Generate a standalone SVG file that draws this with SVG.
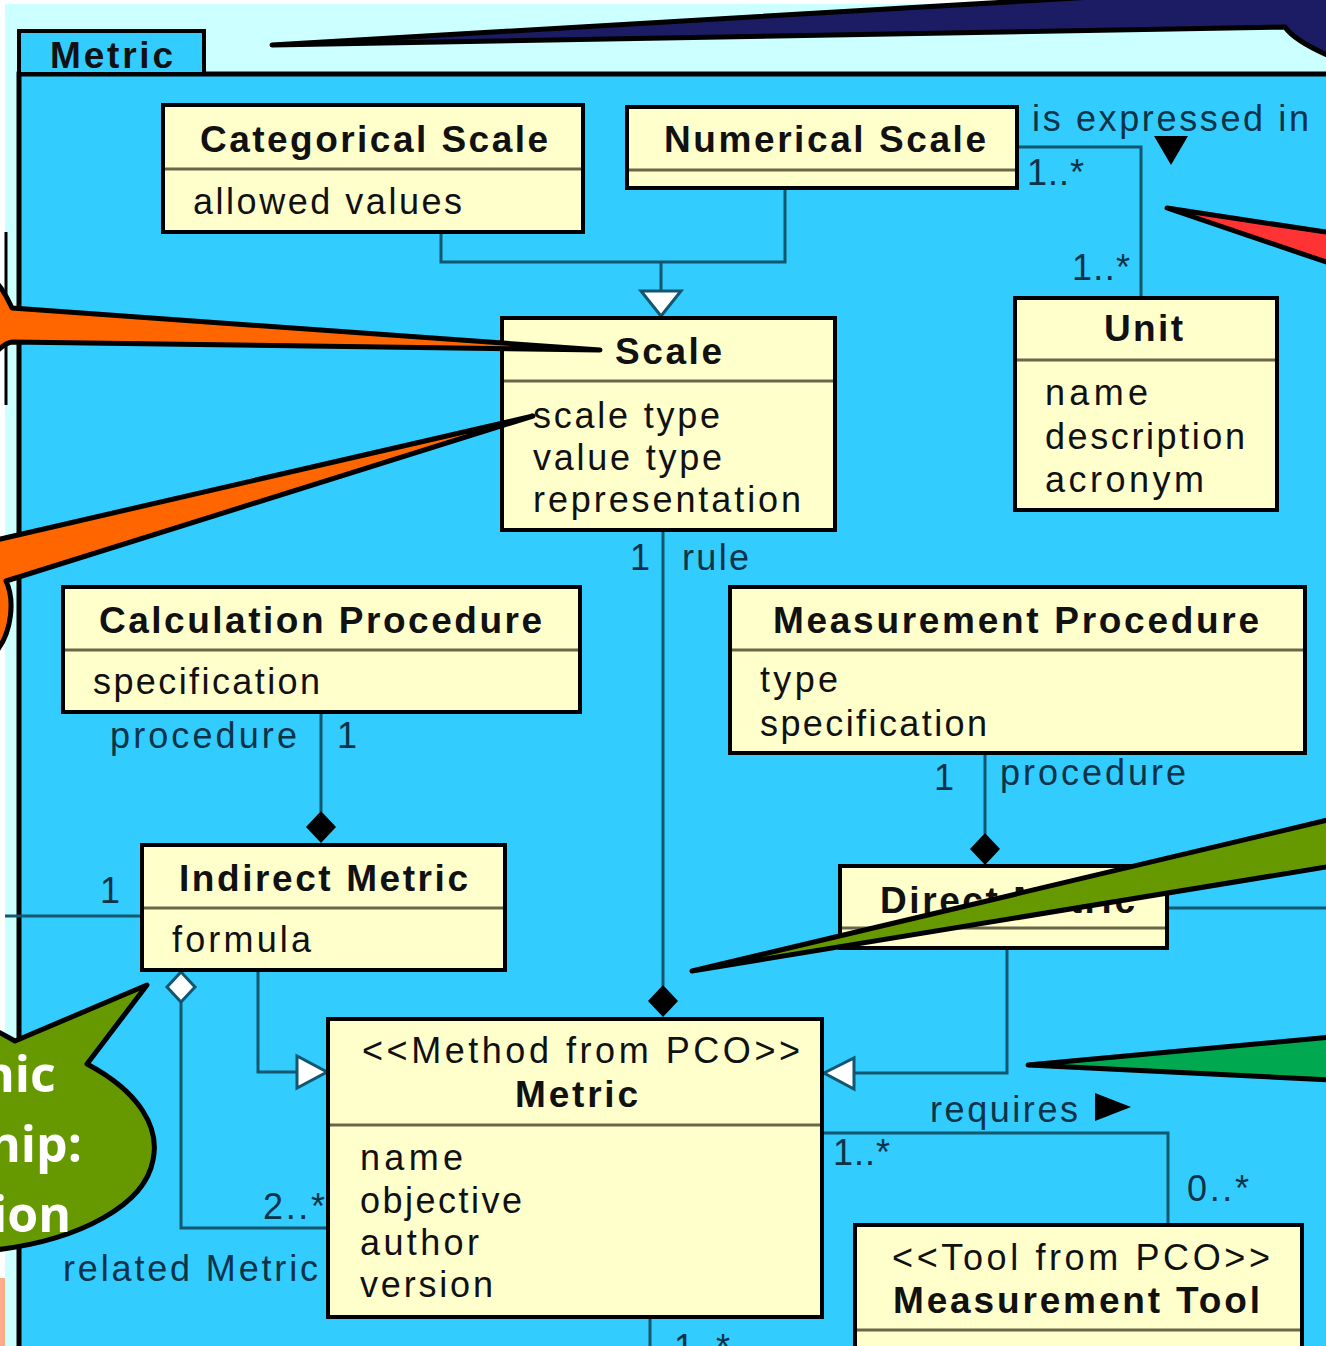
<svg xmlns="http://www.w3.org/2000/svg" width="1326" height="1346" viewBox="0 0 1326 1346">
  <style>
    .box { fill: #FFFFCC; stroke: #000; stroke-width: 4; }
    .sep { stroke: #6b6648; stroke-width: 3; }
    .t { font-family: "Liberation Sans", Arial, sans-serif; font-size: 36px; fill: #111; }
    .b { font-weight: bold; font-size: 37px; }
    .lbl { font-family: "Liberation Sans", Arial, sans-serif; font-size: 36px; fill: #0c3347; }
    .wire { fill: none; stroke: #12566f; stroke-width: 3; }
    .callout { stroke: #000; stroke-width: 5; stroke-linejoin: round; }
    .bubble-text { font-family: "Open Sans", "Liberation Sans", sans-serif; font-weight: 700; font-size: 50px; fill: #fff; }
  </style>

  <!-- page background -->
  <rect x="0" y="0" width="1326" height="1346" fill="#ffffff"/>
  <rect x="5" y="4" width="1321" height="1342" fill="#CCFFFF"/>
  <rect x="0" y="1278" width="5" height="68" fill="#FFAA88"/>
  <line x1="6" y1="232" x2="6" y2="405" stroke="#000" stroke-width="3"/>

  <!-- package frame "Metric" -->
  <g id="package-metric">
    <rect x="19" y="74" width="1320" height="1290" fill="#33CCFF" stroke="#000" stroke-width="5"/>
    <rect x="19" y="31" width="185" height="43" fill="#33CCFF" stroke="#000" stroke-width="4"/>
    <text class="t b" x="50" y="68" textLength="123">Metric</text>
  </g>

  <!-- connectors -->
  <g id="connectors">
    <!-- generalization: Categorical / Numerical -> Scale -->
    <polyline class="wire" points="441,232 441,262 785,262 785,188"/>
    <line class="wire" x1="661" y1="262" x2="661" y2="291"/>
    <polygon points="641,291 681,291 661,316" fill="#fff" stroke="#12566f" stroke-width="3"/>

    <!-- association Numerical Scale - Unit -->
    <polyline class="wire" points="1017,147 1141,147 1141,298"/>
    <polygon points="1154,136 1188,136 1171,165" fill="#000"/>
    <text class="lbl" x="1032" y="131" textLength="277">is expressed in</text>
    <text class="lbl" x="1027" y="185" textLength="57">1..*</text>
    <text class="lbl" x="1072" y="280" textLength="58">1..*</text>

    <!-- composition Scale -> Metric -->
    <line class="wire" x1="663" y1="530" x2="663" y2="986"/>
    <polygon points="663,985 678,1001 663,1017 648,1001" fill="#000"/>
    <text class="lbl" x="630" y="570">1</text>
    <text class="lbl" x="682" y="570" textLength="67">rule</text>

    <!-- composition Calculation Procedure -> Indirect Metric -->
    <line class="wire" x1="321" y1="712" x2="321" y2="812"/>
    <polygon points="321,811 336,827 321,843 306,827" fill="#000"/>
    <text class="lbl" x="110" y="748" textLength="187">procedure</text>
    <text class="lbl" x="337" y="748">1</text>

    <!-- composition Measurement Procedure -> Direct Metric -->
    <line class="wire" x1="985" y1="753" x2="985" y2="834"/>
    <polygon points="985,833 1000,849 985,865 970,849" fill="#000"/>
    <text class="lbl" x="934" y="790">1</text>
    <text class="lbl" x="1000" y="785" textLength="186">procedure</text>

    <!-- side links leaving the package -->
    <line class="wire" x1="5" y1="916" x2="142" y2="916"/>
    <text class="lbl" x="100" y="903">1</text>
    <line class="wire" x1="1167" y1="908" x2="1326" y2="908"/>

    <!-- generalization Indirect Metric -> Metric -->
    <polyline class="wire" points="258,970 258,1072 297,1072"/>
    <polygon points="297,1056 297,1088 327,1072" fill="#fff" stroke="#12566f" stroke-width="3"/>

    <!-- generalization Direct Metric -> Metric -->
    <polyline class="wire" points="1007,948 1007,1073 854,1073"/>
    <polygon points="854,1058 854,1089 824,1073" fill="#fff" stroke="#12566f" stroke-width="3"/>

    <!-- aggregation Indirect Metric <> related Metric -->
    <polyline class="wire" points="181,1002 181,1228 328,1228"/>
    <polygon points="181,972 195,987 181,1002 167,987" fill="#fff" stroke="#12566f" stroke-width="3"/>
    <text class="lbl" x="263" y="1219" textLength="62">2..*</text>
    <text class="lbl" x="63" y="1281" textLength="255">related Metric</text>

    <!-- association Metric - Measurement Tool -->
    <polyline class="wire" points="822,1133 1168,1133 1168,1225"/>
    <text class="lbl" x="930" y="1122" textLength="148">requires</text>
    <polygon points="1095,1093 1095,1121 1131,1107" fill="#000"/>
    <text class="lbl" x="833" y="1165" textLength="57">1..*</text>
    <text class="lbl" x="1187" y="1201" textLength="62">0..*</text>

    <!-- link below Metric -->
    <line class="wire" x1="650" y1="1317" x2="650" y2="1346"/>
    <text class="lbl" x="674" y="1360" textLength="56">1..*</text>
  </g>

  <!-- classes -->
  <g id="categorical-scale">
    <rect class="box" x="163" y="105" width="420" height="127"/>
    <line class="sep" x1="165" y1="169" x2="581" y2="169"/>
    <text class="t b" x="200" y="152" textLength="348">Categorical Scale</text>
    <text class="t" x="193" y="214" textLength="269">allowed values</text>
  </g>

  <g id="numerical-scale">
    <rect class="box" x="627" y="107" width="390" height="81"/>
    <line class="sep" x1="629" y1="170" x2="1015" y2="170"/>
    <text class="t b" x="664" y="152" textLength="322">Numerical Scale</text>
  </g>

  <g id="scale">
    <rect class="box" x="502" y="318" width="333" height="212"/>
    <line class="sep" x1="504" y1="381" x2="833" y2="381"/>
    <text class="t b" x="615" y="364" textLength="107">Scale</text>
    <text class="t" x="533" y="428" textLength="187">scale type</text>
    <text class="t" x="533" y="470" textLength="189">value type</text>
    <text class="t" x="533" y="512" textLength="268">representation</text>
  </g>

  <g id="unit">
    <rect class="box" x="1015" y="298" width="262" height="212"/>
    <line class="sep" x1="1017" y1="360" x2="1275" y2="360"/>
    <text class="t b" x="1104" y="341" textLength="79">Unit</text>
    <text class="t" x="1045" y="405" textLength="103">name</text>
    <text class="t" x="1045" y="449" textLength="200">description</text>
    <text class="t" x="1045" y="492" textLength="159">acronym</text>
  </g>

  <g id="calculation-procedure">
    <rect class="box" x="63" y="587" width="517" height="125"/>
    <line class="sep" x1="65" y1="650" x2="578" y2="650"/>
    <text class="t b" x="99" y="633" textLength="443">Calculation Procedure</text>
    <text class="t" x="93" y="694" textLength="227">specification</text>
  </g>

  <g id="measurement-procedure">
    <rect class="box" x="730" y="587" width="575" height="166"/>
    <line class="sep" x1="732" y1="650" x2="1303" y2="650"/>
    <text class="t b" x="773" y="633" textLength="486">Measurement Procedure</text>
    <text class="t" x="760" y="692" textLength="78">type</text>
    <text class="t" x="760" y="736" textLength="227">specification</text>
  </g>

  <g id="indirect-metric">
    <rect class="box" x="142" y="845" width="363" height="125"/>
    <line class="sep" x1="144" y1="908" x2="503" y2="908"/>
    <text class="t b" x="179" y="891" textLength="289">Indirect Metric</text>
    <text class="t" x="172" y="952" textLength="139">formula</text>
  </g>

  <g id="direct-metric">
    <rect class="box" x="840" y="866" width="327" height="82"/>
    <line class="sep" x1="842" y1="928" x2="1165" y2="928"/>
    <text class="t b" x="880" y="913" textLength="255">Direct Metric</text>
  </g>

  <g id="metric">
    <rect class="box" x="328" y="1019" width="494" height="298"/>
    <line class="sep" x1="330" y1="1125" x2="820" y2="1125"/>
    <text class="t" x="362" y="1063" textLength="438">&lt;&lt;Method from PCO&gt;&gt;</text>
    <text class="t b" x="515" y="1107" textLength="123">Metric</text>
    <text class="t" x="360" y="1170" textLength="103">name</text>
    <text class="t" x="360" y="1213" textLength="162">objective</text>
    <text class="t" x="360" y="1255" textLength="119">author</text>
    <text class="t" x="360" y="1297" textLength="133">version</text>
  </g>

  <g id="measurement-tool">
    <rect class="box" x="855" y="1225" width="447" height="140"/>
    <line class="sep" x1="857" y1="1330" x2="1300" y2="1330"/>
    <text class="t" x="892" y="1270" textLength="378">&lt;&lt;Tool from PCO&gt;&gt;</text>
    <text class="t b" x="893" y="1313" textLength="367">Measurement Tool</text>
  </g>

  <!-- speech-bubble pointers laid over the diagram -->
  <g id="callouts">
    <path class="callout" fill="#1C1C64" d="M272,45 L1110,-4 L1332,-4 L1332,57 C1306,46 1292,37 1285,27 Z"/>
    <path class="callout" fill="#FF3333" d="M1167,208 L1332,233 L1332,264 Z"/>
    <path class="callout" fill="#FF6600" d="M600,350 L12,308 C8,300 4,290 -4,282 L-4,352 C2,346 6,343 12,342 Z"/>
    <path class="callout" fill="#FF6600" d="M533,416 L-4,540 L-4,652 C12,632 15,600 6,581 Z"/>
    <path class="callout" fill="#669900" d="M692,971 L1332,819 L1332,866 Z"/>
    <path class="callout" fill="#00A84F" d="M1028,1065 L1332,1037 L1332,1080 Z"/>
    <path class="callout" fill="#669900" d="M-5,1030 L15,1041 L147,985 L87,1064 C140,1092 160,1128 153,1160 C145,1205 80,1240 -5,1250 Z"/>
    <text class="bubble-text" x="-18" y="1092">nic</text>
    <text class="bubble-text" x="-12" y="1162">hip:</text>
    <text class="bubble-text" x="-8" y="1232">ion</text>
  </g>
</svg>
